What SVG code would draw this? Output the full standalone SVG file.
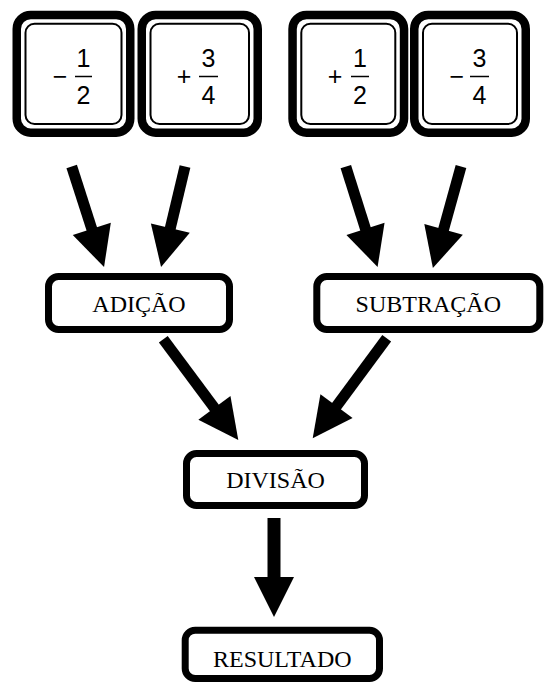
<svg xmlns="http://www.w3.org/2000/svg" width="545" height="682" viewBox="0 0 545 682">
<style>
.outer{fill:#fff;stroke:#000;stroke-width:8.5}
.inner{fill:none;stroke:#000;stroke-width:2}
.box{fill:#fff;stroke:#000;stroke-width:7}
.num{font-family:"Liberation Sans",Arial,sans-serif;font-size:25px;text-anchor:middle;fill:#000}
.bar{stroke:#000;stroke-width:1.5}
.lbl{font-family:"Liberation Serif","Times New Roman",serif;font-size:24px;text-anchor:middle;fill:#000}
.arr{stroke:#000;stroke-width:11;fill:none;marker-end:url(#head)}
</style>
<defs>
<marker id="head" markerUnits="userSpaceOnUse" markerWidth="40" markerHeight="40" refX="1" refY="20" orient="auto" overflow="visible">
<path d="M0,0 L40,20 L0,40 z" fill="#000"/>
</marker>
</defs>
<g id="card1">
<rect class="outer" x="16.75" y="15" width="113.5" height="117.7" rx="14"/>
<rect class="inner" x="25.5" y="23.7" width="96" height="100.3" rx="9"/>
<text class="num" x="60" y="85">−</text>
<text class="num" x="83.5" y="67">1</text>
<line class="bar" x1="75" y1="76.5" x2="92" y2="76.5"/>
<text class="num" x="83.5" y="104">2</text>
</g>
<g id="card2">
<rect class="outer" x="141.75" y="15" width="116" height="117.7" rx="14"/>
<rect class="inner" x="150.5" y="23.7" width="98.5" height="100.3" rx="9"/>
<text class="num" x="184" y="85">+</text>
<text class="num" x="208.5" y="67">3</text>
<line class="bar" x1="199" y1="76.5" x2="218" y2="76.5"/>
<text class="num" x="208.5" y="104">4</text>
</g>
<g id="card3">
<rect class="outer" x="292.55" y="15" width="111.5" height="117.7" rx="14"/>
<rect class="inner" x="301.3" y="23.7" width="94" height="100.3" rx="9"/>
<text class="num" x="335" y="85">+</text>
<text class="num" x="360" y="67">1</text>
<line class="bar" x1="351" y1="76.5" x2="369" y2="76.5"/>
<text class="num" x="360" y="104">2</text>
</g>
<g id="card4">
<rect class="outer" x="414.25" y="15" width="111.5" height="117.7" rx="14"/>
<rect class="inner" x="423" y="23.7" width="94" height="100.3" rx="9"/>
<text class="num" x="456.7" y="85">−</text>
<text class="num" x="479.5" y="67">3</text>
<line class="bar" x1="470" y1="76.5" x2="489" y2="76.5"/>
<text class="num" x="479.5" y="104">4</text>
</g>
<g id="adicao">
<rect class="box" x="48.5" y="276.5" width="181" height="53" rx="10"/>
<text class="lbl" x="139" y="311.5">ADIÇÃO</text>
</g>
<g id="subtracao">
<rect class="box" x="316.8" y="276.5" width="223" height="53" rx="10"/>
<text class="lbl" x="428.3" y="311.5">SUBTRAÇÃO</text>
</g>
<g id="divisao">
<rect class="box" x="186.5" y="453.5" width="178" height="52" rx="10"/>
<text class="lbl" x="275.5" y="488">DIVISÃO</text>
</g>
<g id="resultado">
<rect class="box" x="185.2" y="630.2" width="194.3" height="48.3" rx="10"/>
<text class="lbl" x="282.3" y="667">RESULTADO</text>
</g>
<g id="connectors">
<line class="arr" x1="71.7" y1="166.5" x2="92.1" y2="229.9"/>
<line class="arr" x1="185" y1="166.5" x2="170.1" y2="229.1"/>
<line class="arr" x1="345.8" y1="166.7" x2="365.8" y2="229.8"/>
<line class="arr" x1="461" y1="166.5" x2="443.3" y2="230.4"/>
<line class="arr" x1="163.3" y1="339.2" x2="215" y2="408.7"/>
<line class="arr" x1="386.7" y1="338.3" x2="335.9" y2="406.9"/>
<line class="arr" style="stroke-width:13" x1="274" y1="518" x2="274" y2="578"/>
</g>
</svg>
